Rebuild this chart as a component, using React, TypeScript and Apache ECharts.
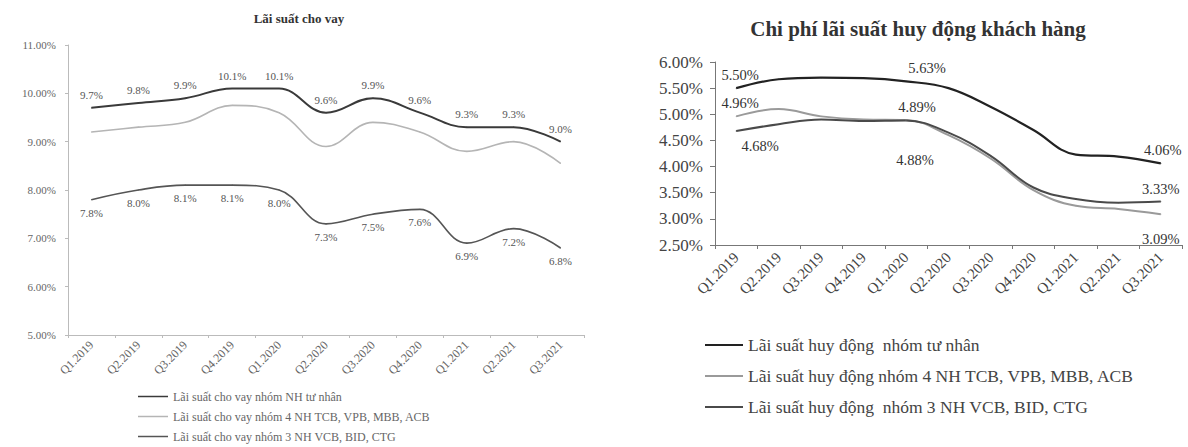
import React, { useEffect, useRef } from "react";
import * as echarts from "echarts";

const categories = [
  "Q1.2019", "Q2.2019", "Q3.2019", "Q4.2019", "Q1.2020", "Q2.2020",
  "Q3.2020", "Q4.2020", "Q1.2021", "Q2.2021", "Q3.2021",
];

// Left chart: Lãi suất cho vay
const leftTitle = "Lãi suất cho vay";
const leftNames = [
  "Lãi suất cho vay nhóm NH tư nhân",
  "Lãi suất cho vay nhóm 4 NH TCB, VPB, MBB, ACB",
  "Lãi suất cho vay nhóm 3 NH VCB, BID, CTG",
];
const loanPrivate = [9.7, 9.8, 9.9, 10.1, 10.1, 9.6, 9.9, 9.6, 9.3, 9.3, 9.0];
const loanFour = [9.2, 9.3, 9.4, 9.75, 9.6, 8.9, 9.4, 9.2, 8.8, 9.0, 8.55];
const loanState = [7.8, 8.0, 8.1, 8.1, 8.0, 7.3, 7.5, 7.6, 6.9, 7.2, 6.8];

// Right chart: Chi phí lãi suất huy động khách hàng
const rightTitle = "Chi phí lãi suất huy động khách hàng";
const rightNames = [
  "Lãi suất huy động  nhóm tư nhân",
  "Lãi suất huy động nhóm 4 NH TCB, VPB, MBB, ACB",
  "Lãi suất huy động  nhóm 3 NH VCB, BID, CTG",
];
const depPrivate = [5.50, 5.67, 5.70, 5.69, 5.63, 5.50, 5.14, 4.70, 4.23, 4.19, 4.06];
const depFour = [4.96, 5.10, 4.96, 4.90, 4.89, 4.60, 4.15, 3.55, 3.25, 3.19, 3.09];
const depState = [4.68, 4.81, 4.90, 4.87, 4.88, 4.65, 4.20, 3.60, 3.38, 3.31, 3.33];
const labeledIdx = [0, 4, 10];

const SERIF = "'Liberation Serif', 'DejaVu Serif', serif";

type LblCfg = { pos: string; off: number[] };

function labeled(values: number[], cfgs: LblCfg[]) {
  return values.map((v, i) => {
    const k = labeledIdx.indexOf(i);
    if (k < 0) return { value: v, label: { show: false } };
    return {
      value: v,
      label: {
        show: true,
        position: cfgs[k].pos,
        offset: cfgs[k].off,
        formatter: (p: any) => p.value.toFixed(2) + "%",
        fontFamily: SERIF,
        fontSize: 14.5,
        color: "#333",
      },
    };
  });
}

export default function App() {
  const ref = useRef<HTMLDivElement>(null);
  useEffect(() => {
    if (!ref.current) return;
    const chart = echarts.init(ref.current, undefined, { renderer: "svg" });
    const leftLbl = {
      show: true,
      fontFamily: SERIF,
      fontSize: 11,
      color: "#555",
      formatter: (p: any) => p.value.toFixed(1) + "%",
    };
    const lineBase = {
      type: "line",
      smooth: 0.4,
      symbol: "circle",
      symbolSize: 1,
      showSymbol: true,
    };
    chart.setOption({
      animation: false,
      backgroundColor: "#fff",
      textStyle: { fontFamily: SERIF },
      title: [
        {
          text: leftTitle,
          left: 299,
          top: 12,
          padding: 0,
          textAlign: "center",
          textStyle: { fontFamily: SERIF, fontSize: 13, fontWeight: "bold", color: "#333" },
        },
        {
          text: rightTitle,
          left: 918,
          top: 18,
          padding: 0,
          textAlign: "center",
          textStyle: { fontFamily: SERIF, fontSize: 21, fontWeight: "bold", color: "#333" },
        },
      ],
      legend: [
        {
          data: leftNames,
          orient: "vertical",
          left: 138,
          bottom: 4,
          padding: 0,
          icon: "rect",
          itemWidth: 30,
          itemHeight: 1.5,
          itemGap: 7,
          textStyle: { fontFamily: SERIF, fontSize: 12, lineHeight: 13, color: "#666" },
        },
        {
          data: rightNames,
          orient: "vertical",
          left: 705,
          top: 336,
          padding: 0,
          icon: "rect",
          itemWidth: 38,
          itemHeight: 2,
          itemGap: 13,
          textStyle: { fontFamily: SERIF, fontSize: 17.5, lineHeight: 18, color: "#444" },
        },
      ],
      grid: [
        { left: 68, top: 45, width: 516, height: 290 },
        { left: 715, top: 62, width: 467, height: 183 },
      ],
      xAxis: [
        {
          gridIndex: 0,
          type: "category",
          data: categories,
          axisLine: { lineStyle: { color: "#bbb" } },
          axisTick: { show: true, length: 3, lineStyle: { color: "#bbb" } },
          axisLabel: { rotate: 45, fontSize: 12, color: "#666", fontFamily: SERIF, margin: 8 },
        },
        {
          gridIndex: 1,
          type: "category",
          data: categories,
          axisLine: { lineStyle: { color: "#777" } },
          axisTick: { show: true, length: 4, lineStyle: { color: "#777" } },
          axisLabel: { rotate: 45, fontSize: 15, color: "#444", fontFamily: SERIF, margin: 10 },
        },
      ],
      yAxis: [
        {
          gridIndex: 0,
          type: "value",
          min: 5,
          max: 11,
          interval: 1,
          splitLine: { show: false },
          axisLine: { show: true, lineStyle: { color: "#bbb" } },
          axisTick: { show: true, length: 3, lineStyle: { color: "#bbb" } },
          axisLabel: {
            fontSize: 11,
            color: "#666",
            fontFamily: SERIF,
            margin: 12,
            formatter: (v: number) => v.toFixed(2) + "%",
          },
        },
        {
          gridIndex: 1,
          type: "value",
          min: 2.5,
          max: 6,
          interval: 0.5,
          splitLine: { show: false },
          axisLine: { show: true, lineStyle: { color: "#777" } },
          axisTick: { show: true, length: 5, lineStyle: { color: "#777" } },
          axisLabel: {
            fontSize: 17,
            color: "#444",
            fontFamily: SERIF,
            margin: 12,
            formatter: (v: number) => v.toFixed(2) + "%",
          },
        },
      ],
      series: [
        {
          ...lineBase,
          name: leftNames[0],
          xAxisIndex: 0,
          yAxisIndex: 0,
          data: loanPrivate,
          lineStyle: { color: "#3a3a3a", width: 2 },
          itemStyle: { color: "#3a3a3a" },
          label: { ...leftLbl, position: "top", distance: 7 },
        },
        {
          ...lineBase,
          name: leftNames[1],
          xAxisIndex: 0,
          yAxisIndex: 0,
          data: loanFour,
          lineStyle: { color: "#b5b5b5", width: 1.6 },
          itemStyle: { color: "#b5b5b5" },
        },
        {
          ...lineBase,
          name: leftNames[2],
          xAxisIndex: 0,
          yAxisIndex: 0,
          data: loanState,
          lineStyle: { color: "#555", width: 1.6 },
          itemStyle: { color: "#555" },
          label: { ...leftLbl, position: "bottom", distance: 7 },
        },
        {
          ...lineBase,
          name: rightNames[0],
          xAxisIndex: 1,
          yAxisIndex: 1,
          data: labeled(depPrivate, [
            { pos: "top", off: [4, 0] },
            { pos: "top", off: [21, 0] },
            { pos: "top", off: [2, 0] },
          ]),
          lineStyle: { color: "#222", width: 2.2 },
          itemStyle: { color: "#222" },
        },
        {
          ...lineBase,
          name: rightNames[1],
          xAxisIndex: 1,
          yAxisIndex: 1,
          data: labeled(depFour, [
            { pos: "top", off: [4, 0] },
            { pos: "top", off: [11, 0] },
            { pos: "bottom", off: [0, 12] },
          ]),
          lineStyle: { color: "#9a9a9a", width: 2 },
          itemStyle: { color: "#9a9a9a" },
        },
        {
          ...lineBase,
          name: rightNames[2],
          xAxisIndex: 1,
          yAxisIndex: 1,
          data: labeled(depState, [
            { pos: "bottom", off: [24, 2] },
            { pos: "bottom", off: [9, 26] },
            { pos: "top", off: [0, 0] },
          ]),
          lineStyle: { color: "#4a4a4a", width: 2 },
          itemStyle: { color: "#4a4a4a" },
        },
      ],
    });
    return () => chart.dispose();
  }, []);
  return (
    <div
      ref={ref}
      style={{ position: "fixed", left: 0, top: 0, width: 1188, height: 447, background: "#fff" }}
    />
  );
}
